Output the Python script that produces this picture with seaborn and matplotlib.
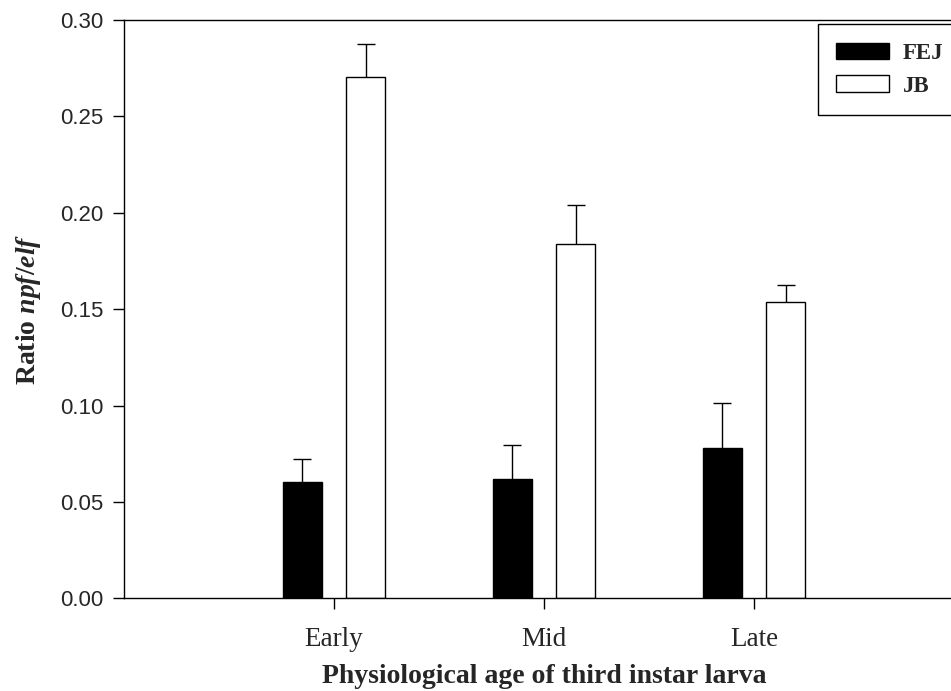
import matplotlib
matplotlib.use("Agg")
import matplotlib.pyplot as plt
import seaborn as sns
import pandas as pd

# Ratio of npf to elf transcripts across larval stages
stages = ["Early", "Mid", "Late"]
groups = ["FEJ", "JB"]
fej_mean = [0.0605, 0.0620, 0.0781]
fej_err = [0.0119, 0.0177, 0.0230]
jb_mean = [0.2702, 0.1836, 0.1538]
jb_err = [0.0173, 0.0205, 0.0087]
y_ticks = [0.00, 0.05, 0.10, 0.15, 0.20, 0.25, 0.30]

df = pd.DataFrame({
    "stage": stages * 2,
    "group": [groups[0]] * 3 + [groups[1]] * 3,
    "ratio": fej_mean + jb_mean,
})

sns.set_theme(style="ticks")
plt.rcParams["mathtext.fontset"] = "custom"
plt.rcParams["mathtext.rm"] = "Liberation Serif:bold"
plt.rcParams["mathtext.it"] = "Liberation Serif:italic:bold"
plt.rcParams["mathtext.bf"] = "Liberation Serif:bold"

fig = plt.figure(figsize=(9.51, 6.91), dpi=100)
ax = fig.add_axes([124 / 951, 1 - 598.3 / 691, (964 - 124) / 951, (598.3 - 20) / 691])

sns.barplot(
    data=df, x="stage", y="ratio", hue="group", order=stages, hue_order=groups,
    palette={"FEJ": "black", "JB": "white"}, saturation=1,
    width=0.604, gap=0.394, edgecolor="black", linewidth=1.0,
    errorbar=None, ax=ax,
)

# upper error bars drawn behind the bars so only the upward whisker shows
for container, errs in zip(ax.containers, [fej_err, jb_err]):
    xs = [p.get_x() + p.get_width() / 2 for p in container.patches]
    ys = [p.get_height() for p in container.patches]
    ax.errorbar(xs, ys, yerr=errs, fmt="none", ecolor="black",
                elinewidth=1.0, capsize=6.8, capthick=1.0, zorder=0.5)

ax.set_xlim(-1.0, 3.0)
ax.set_ylim(0, 0.30)
ax.set_yticks(y_ticks)
ax.set_yticklabels([f"{v:.2f}" for v in y_ticks], fontfamily="Liberation Sans", fontsize=16)
ax.set_xticks(range(len(stages)))
ax.set_xticklabels(stages, fontfamily="Liberation Serif", fontsize=19.5)
ax.tick_params(axis="both", direction="out", length=8, width=1.0, color="black")
ax.tick_params(axis="y", pad=7)
ax.tick_params(axis="x", pad=13)

for side in ["left", "bottom", "top", "right"]:
    ax.spines[side].set_color("black")
    ax.spines[side].set_linewidth(1.0)

ax.set_xlabel("Physiological age of third instar larva", fontfamily="Liberation Serif",
              fontweight="bold", fontsize=20, labelpad=8.5)
ax.set_ylabel(r"Ratio $\mathit{npf/elf}$", fontfamily="Liberation Serif",
              fontweight="bold", fontsize=20, labelpad=12)

handles, labels = ax.get_legend_handles_labels()
leg = ax.legend(
    handles, labels, loc="upper left",
    bbox_to_anchor=(817.7 / 951, 1 - 24.3 / 691), bbox_transform=fig.transFigure,
    prop={"family": "Liberation Serif", "weight": "bold", "size": 16.5},
    frameon=True, fancybox=False, edgecolor="black", framealpha=1,
    handlelength=2.3, handleheight=0.75, handletextpad=0.6,
    borderpad=0.8, labelspacing=0.5, borderaxespad=0,
)
leg.get_frame().set_linewidth(1.0)

fig.savefig("out.png", dpi=100)
